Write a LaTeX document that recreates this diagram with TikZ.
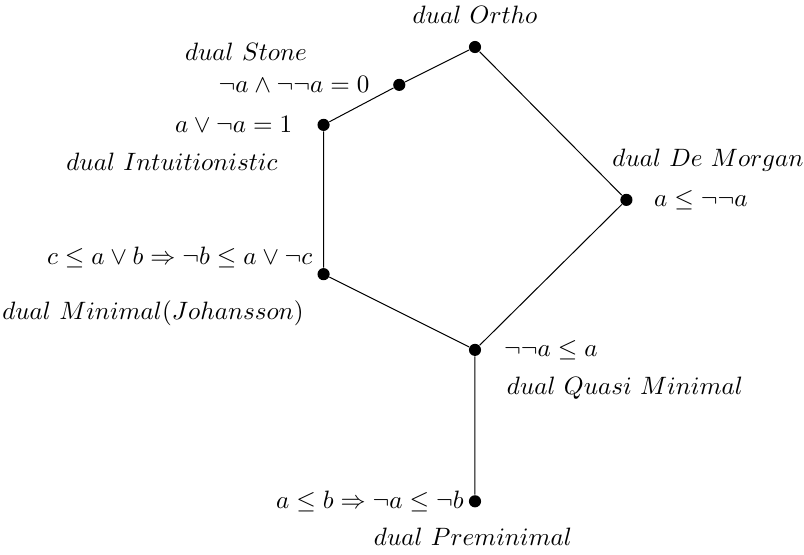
\documentclass[tikz,border=0pt]{standalone}
\usepackage{amsmath}
\usepackage{amssymb}
\usepackage{tikz}
\usetikzlibrary{positioning}
\tikzset{
  pt/.style    = {circle, fill=black, inner sep=0pt, minimum size=0.17cm},
  law/.style   = {inner sep=0pt},
  dualname/.style = {inner sep=0pt},
  edge/.style  = {draw=black, line width=0.4pt},
}

\begin{document}
\begin{tikzpicture}

  \useasboundingbox (-6.65,-7.098) rectangle (4.606,0.658);

  % lattice points
  \node[pt] (or) at (0,0) {};
  \node[pt] (st) at (-1.06,-0.53) {};
  \node[pt] (in) at (-2.12,-1.09) {};
  \node[pt] (mi) at (-2.12,-3.18) {};
  \node[pt] (dm) at (2.12,-2.14) {};
  \node[pt] (qu) at (0,-4.24) {};
  \node[pt] (pr) at (0,-6.36) {};

  \draw[edge] (or) -- (st) -- (in) -- (mi) -- (qu);
  \draw[edge] (or) -- (dm) -- (qu) -- (pr);

  % laws
  \node[law, left=0.32cm of st]              (fst) {$\neg a\wedge\neg\neg a=0$};
  \node[law, left=0.34cm of in]              (fin) {$a\vee\neg a=1$};
  \node[law, left=0.06cm of mi, yshift=0.24cm] (fmi) {$c\leq a\vee b\Rightarrow\neg b\leq a\vee\neg c$};
  \node[law, right=0.29cm of dm]             (fdm) {$a\leq\neg\neg a$};
  \node[law, right=0.31cm of qu]             (fqu) {$\neg\neg a\leq a$};
  \node[law, left=0.06cm of pr]              (fpr) {$a\leq b\Rightarrow\neg a\leq\neg b$};

  % names
  \node[dualname] (nor) at (0,0.448)        {$dual\ Ortho$};
  \node[dualname] (nst) at (-3.206,-0.07)   {$dual\ Stone$};
  \node[dualname] (nin) at (-4.242,-1.61)   {$dual\ Intuitionistic$};
  \node[dualname] (nmi) at (-4.508,-3.724)  {$dual\ Minimal(Johansson)$};
  \node[dualname] (ndm) at (3.262,-1.582)   {$dual\ De\ Morgan$};
  \node[dualname] (nqu) at (2.1,-4.774)     {$dual\ Quasi\ Minimal$};
  \node[dualname] (npr) at (-0.028,-6.86)   {$dual\ Preminimal$};

\end{tikzpicture}
\end{document}
